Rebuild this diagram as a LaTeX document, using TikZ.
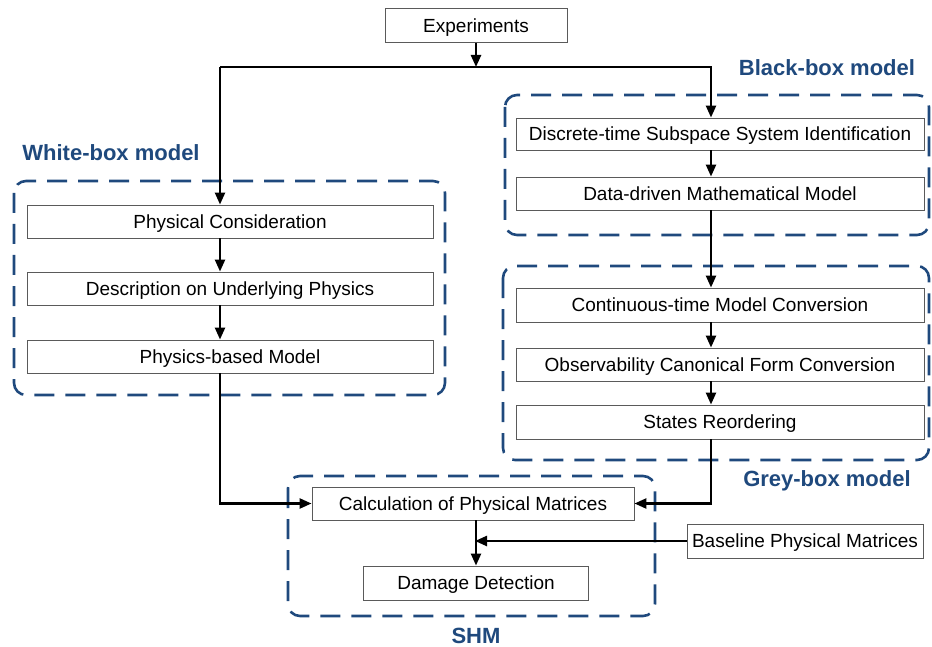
\documentclass[tikz,border=0pt]{standalone}
\usepackage{fontspec}
\setmainfont{Liberation Sans}
\usetikzlibrary{arrows.meta}
\definecolor{frameblue}{RGB}{31,73,125}
\definecolor{boxgrey}{RGB}{90,90,90}
\begin{document}
\begin{tikzpicture}[x=1pt,y=-1pt,
  stage/.style={draw=boxgrey,line width=0.9pt,fill=white,inner sep=0pt,
    font=\fontsize{19}{21}\selectfont,minimum height=33pt,
    text height=15pt,text depth=1.4pt},
  group/.style={draw=frameblue,line width=2.6pt,rounded corners=12pt,
    dash pattern=on 20pt off 11pt},
  grouplabel/.style={text=frameblue,inner sep=0pt,
    font=\fontsize{22}{24}\selectfont\bfseries},
  flow/.style={line width=2.4pt,-{Triangle[length=12pt,width=10pt]}}]
\useasboundingbox (0,0) rectangle (932,647);

% dashed model groups
\draw[group] (14,181) rectangle (445,395);
\draw[group] (505,95) rectangle (929,235);
\draw[group] (503,266) rectangle (929,460);
\draw[group] (288,476) rectangle (655,616);

\node[grouplabel] (lw) at (111,153) {White-box model};
\node[grouplabel] (lb) at (827,68) {Black-box model};
\node[grouplabel] (lg) at (827,481) {Grey-box model};
\node[grouplabel] (ls) at (476,636) {SHM};

% column guide coordinates
\coordinate (wx) at (220,0);
\coordinate (bx) at (711,0);
\coordinate (split) at (0,67);

% stages
\node[stage,minimum width=182pt,minimum height=34pt] (exp) at (476,25.5) {Experiments};
\node[stage,minimum width=406pt] (phys) at (230,221.5) {Physical Consideration};
\node[stage,minimum width=406pt] (desc) at (230,288.5) {Description on Underlying Physics};
\node[stage,minimum width=406pt] (pbm) at (230,356.5) {Physics-based Model};
\node[stage,minimum width=408pt,minimum height=32pt] (disc) at (720,134) {Discrete-time Subspace System Identification};
\node[stage,minimum width=408pt] (ddm) at (720,193.5) {Data-driven Mathematical Model};
\node[stage,minimum width=408pt,minimum height=34pt] (cont) at (720,305) {Continuous-time Model Conversion};
\node[stage,minimum width=408pt] (obs) at (720,364.5) {Observability Canonical Form Conversion};
\node[stage,minimum width=408pt,minimum height=34pt] (reord) at (720,422) {States Reordering};
\node[stage,minimum width=322pt] (calc) at (473,503.5) {Calculation of Physical Matrices};
\node[stage,minimum width=225pt,minimum height=34pt] (dmg) at (476,583) {Damage Detection};
\node[stage,minimum width=236pt,minimum height=34pt] (base) at (805,541) {Baseline Physical Matrices};

% connectors
\draw[flow] (exp.south) -- (exp.south |- split);
\draw[flow] (wx |- split) -- (phys.north -| wx);
\draw[flow] (wx |- split) -| (disc.north -| bx);
\draw[flow] (phys.south -| wx) -- (desc.north -| wx);
\draw[flow] (desc.south -| wx) -- (pbm.north -| wx);
\draw[flow] (disc.south -| bx) -- (ddm.north -| bx);
\draw[flow] (ddm.south -| bx) -- (cont.north -| bx);
\draw[flow] (cont.south -| bx) -- (obs.north -| bx);
\draw[flow] (obs.south -| bx) -- (reord.north -| bx);
\draw[flow] (pbm.south -| wx) |- (calc.west);
\draw[flow] (reord.south -| bx) |- (calc.east);
\draw[flow] (calc.south -| dmg.north) -- (dmg.north);
\draw[flow,shorten >=-1pt] (base.west) -- (base.west -| dmg.north);
\end{tikzpicture}
\end{document}
